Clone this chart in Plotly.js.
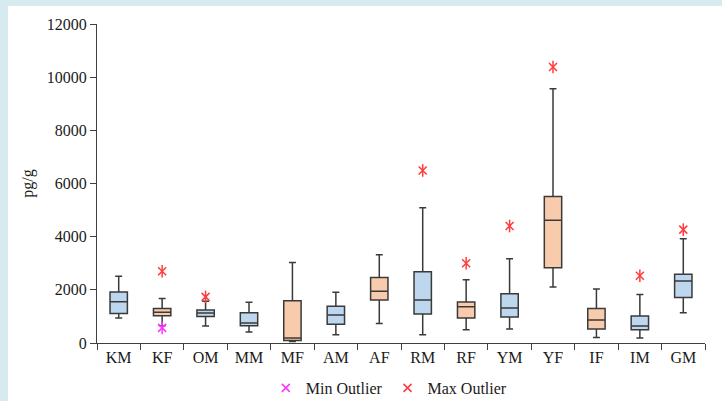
<!DOCTYPE html>
<html>
<head>
<meta charset="utf-8">
<script src="https://cdn.plot.ly/plotly-3.0.1.min.js"></script>
<style>
  html, body { margin: 0; padding: 0; background: #d6eaf0; width: 722px; height: 401px; overflow: hidden; }
  #chart { position: absolute; left: 8px; top: 6px; width: 714px; height: 395px; background: #ffffff; }
</style>
</head>
<body>
<div id="chart"></div>
<script>
// ---- data (pg/g) ----
const categories = ['KM','KF','OM','MM','MF','AM','AF','RM','RF','YM','YF','IF','IM','GM'];
const groups     = ['M','F','M','M','F','M','F','M','F','M','F','F','M','M'];
const lowerWhisker = [ 940,  650,  640,  415,   60,  315,  730,  315,  500,  530, 2110,  210,  190, 1140];
const q1Values     = [1110, 1025,  995,  645,   90,  705, 1620, 1095,  945,  980, 2830,  530,  500, 1710];
const medianValues = [1555, 1160, 1130,  755,  190, 1055, 1945, 1620, 1360, 1320, 4615,  865,  640, 2335];
const q3Values     = [1920, 1295, 1245, 1135, 1585, 1380, 2465, 2680, 1545, 1850, 5510, 1295, 1020, 2590];
const upperWhisker = [2510, 1670, 1570, 1530, 3030, 1910, 3320, 5090, 2375, 3170, 9560, 2035, 1820, 3920];

const minOutlierCats   = ['KF'];
const minOutlierValues = [570];
const maxOutlierCats   = ['KF','OM','RM','RF','YM','YF','IM','GM'];
const maxOutlierValues = [2700, 1735, 6490, 3000, 4400, 10380, 2530, 4265];

const fillColors = { M: '#bdd7ee', F: '#f8cbad' };

function boxTrace(g) {
  const idx = categories.map((c, i) => i).filter(i => groups[i] === g);
  return {
    type: 'box',
    x: idx.map(i => categories[i]),
    q1: idx.map(i => q1Values[i]),
    median: idx.map(i => medianValues[i]),
    q3: idx.map(i => q3Values[i]),
    lowerfence: idx.map(i => lowerWhisker[i]),
    upperfence: idx.map(i => upperWhisker[i]),
    fillcolor: fillColors[g],
    line: { color: '#3a3a3a', width: 1.5 },
    width: 0.4,
    whiskerwidth: 0.4,
    boxpoints: false,
    showlegend: false,
    hoverinfo: 'skip'
  };
}

const serif = 'Liberation Serif, Times New Roman, serif';

const traces = [
  boxTrace('M'),
  boxTrace('F'),
  { type: 'scatter', mode: 'markers', x: minOutlierCats, y: minOutlierValues, name: 'Min Outlier',
    marker: { symbol: 'x-thin-open', size: 8, line: { color: '#ff33ff', width: 1.5 }, color: '#ff33ff' } },
  { type: 'scatter', mode: 'markers', x: minOutlierCats, y: minOutlierValues, showlegend: false,
    marker: { symbol: 'line-ns-open', size: 9, line: { color: '#ff33ff', width: 1.5 }, color: '#ff33ff' } },
  { type: 'scatter', mode: 'markers', x: maxOutlierCats, y: maxOutlierValues, name: 'Max Outlier',
    marker: { symbol: 'x-thin-open', size: 8, line: { color: '#ff3b3b', width: 1.5 }, color: '#ff3b3b' } },
  { type: 'scatter', mode: 'markers', x: maxOutlierCats, y: maxOutlierValues, showlegend: false,
    marker: { symbol: 'line-ns-open', size: 9, line: { color: '#ff3b3b', width: 1.5 }, color: '#ff3b3b' } }
];

const layout = {
  width: 714, height: 395,
  margin: { l: 89, r: 17, t: 18, b: 58, autoexpand: false },
  paper_bgcolor: '#ffffff',
  plot_bgcolor: '#ffffff',
  boxmode: 'overlay',
  font: { family: serif, size: 16, color: '#1a1a1a' },
  xaxis: {
    type: 'category',
    categoryarray: categories,
    range: [-0.5, 13.5],
    showline: true, linecolor: '#404040', linewidth: 1,
    ticks: 'outside', tickson: 'boundaries', ticklen: 6, tickcolor: '#404040',
    showgrid: false, zeroline: false,
    tickfont: { family: serif, size: 16, color: '#1a1a1a' }
  },
  yaxis: {
    range: [0, 12000],
    tickvals: [0, 2000, 4000, 6000, 8000, 10000, 12000],
    ticktext: ['0', '2000', '4000', '6000', '8000', '10000', '12000'],
    showline: true, linecolor: '#404040', linewidth: 1,
    ticks: 'outside', ticklen: 6, tickcolor: '#404040',
    showgrid: false, zeroline: false,
    tickfont: { family: serif, size: 16, color: '#1a1a1a' },
    title: { text: 'pg/g', font: { family: serif, size: 16, color: '#1a1a1a' }, standoff: 9 }
  },
  legend: {
    orientation: 'h', x: 0.48, xanchor: 'center', y: -0.141, yanchor: 'middle',
    font: { family: serif, size: 16, color: '#1a1a1a' },
    itemwidth: 30, bgcolor: 'rgba(0,0,0,0)'
  },
  showlegend: true
};

Plotly.newPlot('chart', traces, layout, { displayModeBar: false, staticPlot: true });
</script>
</body>
</html>
